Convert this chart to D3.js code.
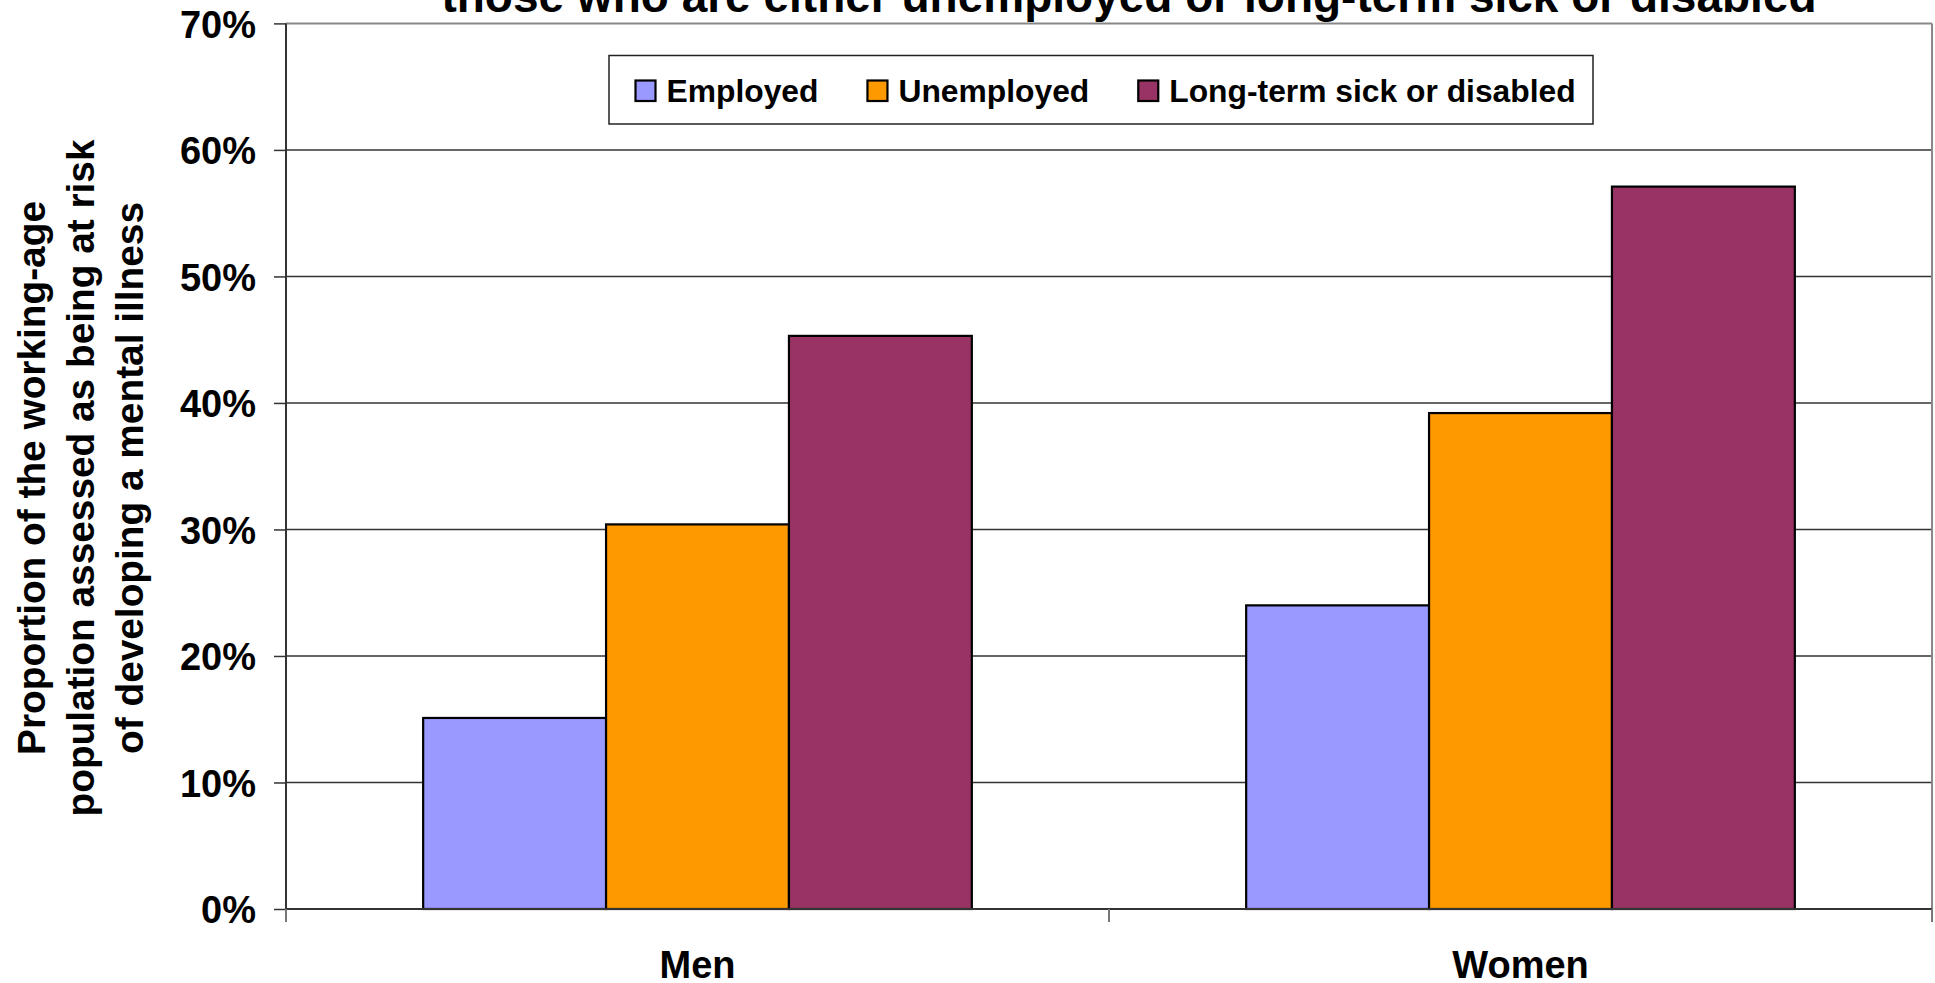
<!DOCTYPE html>
<html>
<head>
<meta charset="utf-8">
<script src="https://cdn.jsdelivr.net/npm/d3@7/dist/d3.min.js"></script>
<style>
  html, body { margin: 0; padding: 0; background: #fff; }
  svg { display: block; }
  text { font-family: "Liberation Sans", Arial, sans-serif; font-weight: bold; fill: #000; }
</style>
</head>
<body>
<svg id="chart" width="1935" height="983"></svg>
<script>
// ---- data ----
const categories = ["Men", "Women"];
const seriesNames = ["Employed", "Unemployed", "Long-term sick or disabled"];
const employed = [0.151, 0.240];
const unemployed = [0.304, 0.392];
const sickDisabled = [0.453, 0.571];
const yTicks = [0, 0.1, 0.2, 0.3, 0.4, 0.5, 0.6, 0.7];
const titleText = "those who are either unemployed or long-term sick or disabled";
const yTitleLines = ["Proportion of the working-age", "population assessed as being at risk", "of developing a mental illness"];

(function () {
const seriesValues = [employed, unemployed, sickDisabled];
const colors = ["#9999FF", "#FF9900", "#993366"];

// ---- layout ----
const svg = d3.select("#chart");
const pLeft = 286, pRight = 1932, pTop = 23.4, pBottom = 909;

const y = d3.scaleLinear().domain([0, 0.7]).range([pBottom, pTop]);
const x0 = d3.scaleBand().domain(categories).range([pLeft, pRight]).paddingInner(0).paddingOuter(0);
const bw = x0.bandwidth();
const x1 = d3.scaleBand().domain(seriesNames).range([bw / 6, bw * 5 / 6]).padding(0);

// gridlines
svg.append("g").selectAll("line")
  .data(yTicks.filter(d => d > 0 && d < 0.7))
  .join("line")
  .attr("x1", pLeft).attr("x2", pRight)
  .attr("y1", d => y(d)).attr("y2", d => y(d))
  .attr("stroke", "#333").attr("stroke-width", 1.5);

// plot border top/right (gray)
svg.append("line").attr("x1", pLeft).attr("x2", pRight).attr("y1", y(0.7)).attr("y2", y(0.7))
  .attr("stroke", "#888").attr("stroke-width", 2);
svg.append("line").attr("x1", pRight).attr("x2", pRight).attr("y1", y(0.7)).attr("y2", y(0))
  .attr("stroke", "#888").attr("stroke-width", 2);

// bars
const rows = categories.map((c, i) => ({ cat: c, vals: seriesNames.map((s, j) => ({ s, j, v: seriesValues[j][i] })) }));
svg.append("g").selectAll("g")
  .data(rows)
  .join("g")
  .attr("transform", d => `translate(${x0(d.cat)},0)`)
  .selectAll("rect")
  .data(d => d.vals)
  .join("rect")
  .attr("x", d => x1(d.s))
  .attr("width", x1.bandwidth())
  .attr("y", d => y(d.v))
  .attr("height", d => y(0) - y(d.v))
  .attr("fill", d => colors[d.j])
  .attr("stroke", "#000")
  .attr("stroke-width", 2.2);

// y axis
const yAxis = d3.axisLeft(y).tickValues(yTicks).tickFormat(d3.format(".0%")).tickSize(12).tickPadding(18);
const gy = svg.append("g").attr("transform", `translate(${pLeft},0)`).call(yAxis);
gy.select(".domain").remove();
gy.selectAll(".tick line").attr("stroke", "#333").attr("stroke-width", 1.5);
gy.selectAll(".tick text").attr("font-size", 38).attr("dy", "0.36em")
  .style("font-family", '"Liberation Sans", Arial, sans-serif').style("font-weight", "bold").attr("fill", "#000");
svg.append("line").attr("x1", pLeft).attr("x2", pLeft).attr("y1", y(0.7)).attr("y2", y(0) + 13)
  .attr("stroke", "#333").attr("stroke-width", 2);

// x axis
svg.append("line").attr("x1", pLeft).attr("x2", pRight).attr("y1", y(0)).attr("y2", y(0))
  .attr("stroke", "#333").attr("stroke-width", 2.2);
const boundaries = categories.map(c => x0(c)).concat([pRight]);
svg.append("g").selectAll("line").data(boundaries).join("line")
  .attr("x1", d => d).attr("x2", d => d)
  .attr("y1", y(0)).attr("y2", y(0) + 13)
  .attr("stroke", "#777").attr("stroke-width", 2);
svg.append("g").selectAll("text").data(categories).join("text")
  .attr("x", d => x0(d) + bw / 2)
  .attr("y", 978)
  .attr("text-anchor", "middle")
  .attr("font-size", 38)
  .text(d => d);

// title (partially cut at top, as in the reference)
svg.append("text").attr("x", 1129).attr("y", 12).attr("text-anchor", "middle")
  .attr("font-size", 46).text(titleText);

// y title
const yt = svg.append("text").attr("transform", "rotate(-90)").attr("text-anchor", "middle").attr("font-size", 38.8);
const baselines = [45, 93.5, 143];
yTitleLines.forEach((l, i) => {
  yt.append("tspan").attr("x", -478).attr("y", baselines[i]).text(l);
});

// legend
const lg = svg.append("g");
lg.append("rect").attr("x", 609).attr("y", 55.5).attr("width", 984).attr("height", 68.5)
  .attr("fill", "#fff").attr("stroke", "#222").attr("stroke-width", 1.5);
let lx = 635.5;
seriesNames.forEach((s, j) => {
  lg.append("rect").attr("x", lx).attr("y", 80.5).attr("width", 20).attr("height", 20.5)
    .attr("fill", colors[j]).attr("stroke", "#000").attr("stroke-width", 2.2);
  const t = lg.append("text").attr("x", lx + 31).attr("y", 101.7).attr("font-size", 31.8).text(s);
  const w = t.node().getComputedTextLength();
  lx = lx + 31 + w + 49;
});
})();
</script>
</body>
</html>
